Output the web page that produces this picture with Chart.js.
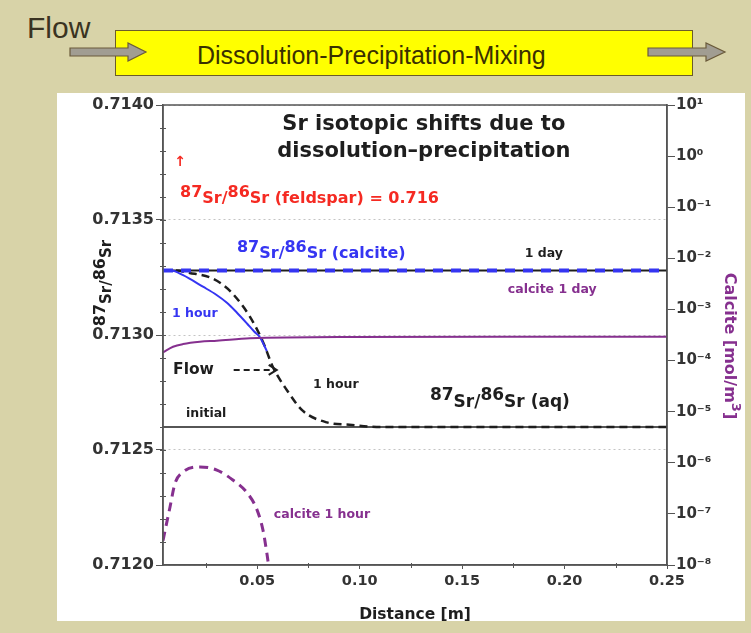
<!DOCTYPE html>
<html>
<head>
<meta charset="utf-8">
<script src="https://cdn.jsdelivr.net/npm/chart.js@4.4.1/dist/chart.umd.min.js"></script>
<style>
  body { margin: 0; background: #d8d3a8; }
  #wrap { position: relative; width: 751px; height: 633px; overflow: hidden; background: #d8d3a8; }
  #panel { position: absolute; left: 57px; top: 93px; width: 688px; height: 528px; background: #fff; }
  #flow { position: absolute; left: 27px; top: 11px; font: 30px "Liberation Sans", Arial, sans-serif; color: #3a3322; }
  #box { position: absolute; left: 115px; top: 30px; width: 576px; height: 44px; background: #ffff00; border: 1.5px solid #6b5c2a; }
  #boxText { position: absolute; left: 197px; top: 41px; font: 25px "Liberation Sans", Arial, sans-serif; color: #3a3000; white-space: nowrap; }
  svg, canvas { position: absolute; left: 0; top: 0; }
</style>
</head>
<body>
<div id="wrap">
  <div id="flow">Flow</div>
  <div id="box"></div>
  <div id="boxText">Dissolution-Precipitation-Mixing</div>
  <svg width="751" height="90">
    <polygon points="70,48 128,48 128,43 146,52 128,61 128,56 70,56" fill="#a19d92" stroke="#6a5a3a" stroke-width="1.2"/>
    <polygon points="648,48 706,48 706,43 725,52 706,61 706,56 648,56" fill="#a19d92" stroke="#6a5a3a" stroke-width="1.2"/>
  </svg>
  <div id="panel"></div>
  <canvas id="chart" width="751" height="633"></canvas>
</div>
<script>
// axes
const xMin = 0.004, xMax = 0.25;
const xTicks = [0.05, 0.10, 0.15, 0.20, 0.25];
const srTicks = [0.7120, 0.7125, 0.7130, 0.7135, 0.7140];
const calTicks = [1e-8, 1e-7, 1e-6, 1e-5, 1e-4, 1e-3, 1e-2, 1e-1, 1e0, 1e1];

// 87Sr/86Sr (aq), 1 hour (black dashed)
const distAq1h = [0.004, 0.010, 0.017, 0.027, 0.033, 0.038, 0.0464, 0.0528, 0.0577, 0.0645, 0.0723, 0.084, 0.095, 0.11, 0.25];
const srAq1h   = [0.71328, 0.71328, 0.71327, 0.71325, 0.71322, 0.71318, 0.71308, 0.71297, 0.71286, 0.71276, 0.71267, 0.71262, 0.71261, 0.7126, 0.7126];
// 87Sr/86Sr (aq), 1 day and initial (black solid)
const distFlat = [0.004, 0.25];
const srAq1d = [0.71328, 0.71328];
const srInitial = [0.7126, 0.7126];
// 87Sr/86Sr (calcite)
const srCal1d = [0.71328, 0.71328];
const distCal1h = [0.004, 0.008, 0.0138, 0.0235, 0.030, 0.0352, 0.040, 0.045, 0.0485, 0.0513, 0.0547];
const srCal1h   = [0.71328, 0.71328, 0.71326, 0.71321, 0.713175, 0.71314, 0.713098, 0.71305, 0.713015, 0.71299, 0.71293];
// calcite amount [mol/m3]
const distCalc1d = [0.004, 0.0089, 0.0138, 0.022, 0.0303, 0.0464, 0.095, 0.17, 0.25];
const calc1d     = [1.45e-4, 1.86e-4, 2.1e-4, 2.33e-4, 2.44e-4, 2.72e-4, 2.9e-4, 2.92e-4, 2.92e-4];
const distCalc1h = [0.004, 0.0074, 0.0099, 0.0138, 0.022, 0.0303, 0.0381, 0.045, 0.0499, 0.0528, 0.0547, 0.0555];
const calc1h     = [3e-8, 1.35e-7, 4e-7, 6.6e-7, 8.3e-7, 7.2e-7, 4.6e-7, 2.6e-7, 1.2e-7, 4.8e-8, 1.7e-8, 1e-8];

const BLUE = '#3535f2', PURPLE = '#86308f', RED = '#f52a22', INK = '#1e1e1e';
const FONT = '"DejaVu Sans", Verdana, sans-serif';

function pts(xs, ys) { return xs.map((x, i) => ({ x: x, y: ys[i] })); }

const sup = { '-': '⁻', '0': '⁰', '1': '¹', '2': '²', '3': '³', '4': '⁴', '5': '⁵', '6': '⁶', '7': '⁷', '8': '⁸', '9': '⁹' };
function pow10(v) {
  const e = String(Math.round(Math.log10(v)));
  return '10' + e.split('').map(c => sup[c]).join('');
}

// text labels in data units (x distance, y left axis)
const notes = [
  { x: 0.1313, y: 0.71389, align: 'center', color: INK, parts: [['Sr isotopic shifts due to', 21]] },
  { x: 0.1313, y: 0.713775, align: 'center', color: INK, parts: [['dissolution\u2013precipitation', 21]] },
  { x: 0.0095, y: 0.713735, color: RED, parts: [['\u2191', 14]] },
  { x: 0.0123, y: 0.713574, color: RED, parts: [['87', 16, -6], ['Sr', 16], ['/', 16], ['86', 16, -6], ['Sr', 16], [' (feldspar) = 0.716', 16]] },
  { x: 0.0401, y: 0.713335, color: BLUE, parts: [['87', 16, -6], ['Sr', 16], ['/', 16], ['86', 16, -6], ['Sr', 16], [' (calcite)', 16]] },
  { x: 0.1806, y: 0.713339, color: INK, parts: [['1 day', 12.5]] },
  { x: 0.1723, y: 0.713183, color: PURPLE, parts: [['calcite 1 day', 12.5]] },
  { x: 0.0084, y: 0.713078, color: BLUE, parts: [['1 hour', 12.5]] },
  { x: 0.0089, y: 0.71283, color: INK, parts: [['Flow', 15.5]] },
  { x: 0.0772, y: 0.71277, color: INK, parts: [['1 hour', 12.5]] },
  { x: 0.1343, y: 0.712687, color: INK, parts: [['87', 17, -7], ['Sr', 17], ['/', 17], ['86', 17, -7], ['Sr', 17], [' (aq)', 17]] },
  { x: 0.0152, y: 0.712643, color: INK, parts: [['initial', 12.5]] },
  { x: 0.0581, y: 0.712204, color: PURPLE, parts: [['calcite 1 hour', 12.5]] }
];

function drawParts(ctx, x, y, parts, color, align) {
  let w = 0;
  parts.forEach(p => { ctx.font = 'bold ' + p[1] + 'px ' + FONT; w += ctx.measureText(p[0]).width; });
  let cx = align === 'center' ? x - w / 2 : x;
  ctx.fillStyle = color;
  ctx.textAlign = 'left';
  ctx.textBaseline = 'alphabetic';
  parts.forEach(p => {
    ctx.font = 'bold ' + p[1] + 'px ' + FONT;
    ctx.fillText(p[0], cx, y + (p[2] || 0));
    cx += ctx.measureText(p[0]).width;
  });
}

const decor = {
  id: 'decor',
  afterDraw(chart) {
    const c = chart.ctx, a = chart.chartArea;
    const sx = chart.scales.x, sy = chart.scales.y;
    c.save();
    // minor ticks
    c.strokeStyle = '#555';
    c.lineWidth = 1;
    for (let v = 0.7121; v < 0.71395; v += 0.0001) {
      const py = Math.round(sy.getPixelForValue(v)) + 0.5;
      c.beginPath(); c.moveTo(a.left - 3, py); c.lineTo(a.left + 3, py); c.stroke();
    }
    [0.025, 0.075, 0.125, 0.175, 0.225].forEach(v => {
      const px = Math.round(sx.getPixelForValue(v)) + 0.5;
      c.beginPath(); c.moveTo(px, a.bottom - 2); c.lineTo(px, a.bottom + 3); c.stroke();
    });
    // frame
    c.strokeStyle = '#555';
    c.lineWidth = 1.5;
    c.strokeRect(a.left, a.top, a.right - a.left, a.bottom - a.top);

    // labels
    notes.forEach(n => drawParts(c, sx.getPixelForValue(n.x), sy.getPixelForValue(n.y), n.parts, n.color, n.align));

    // dashed flow arrow
    const fy = sy.getPixelForValue(0.712848);
    const fx0 = sx.getPixelForValue(0.0385), fx1 = sx.getPixelForValue(0.0595);
    c.strokeStyle = INK;
    c.lineWidth = 2;
    c.setLineDash([6, 4]);
    c.beginPath(); c.moveTo(fx0, fy); c.lineTo(fx1 - 2, fy); c.stroke();
    c.setLineDash([]);
    c.beginPath(); c.moveTo(fx1 - 8, fy - 5); c.lineTo(fx1, fy); c.lineTo(fx1 - 8, fy + 5); c.stroke();

    // axis titles
    c.save();
    c.translate(111, (a.top + a.bottom) / 2 - 52);
    c.rotate(-Math.PI / 2);
    drawParts(c, 0, 0, [['87', 16, -6], ['Sr', 15], ['/', 15], ['86', 16, -6], ['Sr', 15]], INK, 'center');
    c.restore();

    c.save();
    c.translate(725, 346);
    c.rotate(Math.PI / 2);
    drawParts(c, 0, 0, [['Calcite [mol/m', 16], ['3', 13, -7], [']', 16]], PURPLE, 'center');
    c.restore();

    drawParts(c, (a.left + a.right) / 2, 619, [['Distance [m]', 15.5]], INK, 'center');
    c.restore();
  }
};

const tickFont = (s) => ({ family: FONT, size: s, weight: 'bold' });

new Chart(document.getElementById('chart').getContext('2d'), {
  type: 'line',
  data: {
    datasets: [
      { label: 'initial', data: pts(distFlat, srInitial), yAxisID: 'y', borderColor: INK, borderWidth: 1.5, order: 9 },
      { label: 'aq 1 day', data: pts(distFlat, srAq1d), yAxisID: 'y', borderColor: INK, borderWidth: 2, order: 8 },
      { label: 'aq 1 hour', data: pts(distAq1h, srAq1h), yAxisID: 'y', borderColor: INK, borderWidth: 2.5, borderDash: [8, 5], cubicInterpolationMode: 'monotone', order: 5 },
      { label: 'calcite 1 hour', data: pts(distCal1h, srCal1h), yAxisID: 'y', borderColor: BLUE, borderWidth: 2, cubicInterpolationMode: 'monotone', order: 4 },
      { label: 'calcite 1 day', data: pts(distFlat, srCal1d), yAxisID: 'y', borderColor: BLUE, borderWidth: 4, borderDash: [10, 8], order: 3 },
      { label: 'calcite amount 1 day', data: pts(distCalc1d, calc1d), yAxisID: 'y1', borderColor: PURPLE, borderWidth: 2, cubicInterpolationMode: 'monotone', order: 2 },
      { label: 'calcite amount 1 hour', data: pts(distCalc1h, calc1h), yAxisID: 'y1', borderColor: PURPLE, borderWidth: 3, borderDash: [9, 6], cubicInterpolationMode: 'monotone', order: 1 }
    ]
  },
  options: {
    responsive: false,
    animation: false,
    elements: { point: { radius: 0 } },
    layout: { padding: { top: 105, left: 0, right: 0, bottom: 0 } },
    plugins: { legend: { display: false }, tooltip: { enabled: false } },
    scales: {
      x: {
        type: 'linear', min: xMin, max: xMax,
        afterBuildTicks: s => { s.ticks = xTicks.map(v => ({ value: v })); },
        afterFit: s => { s.height = 68; },
        ticks: { callback: v => v.toFixed(2), font: tickFont(14.5), color: '#333', padding: 4, maxRotation: 0 },
        grid: { drawOnChartArea: false, tickLength: 4, color: '#555' },
        border: { color: '#555', width: 1.5 }
      },
      y: {
        position: 'left', min: 0.712, max: 0.714,
        afterBuildTicks: s => { s.ticks = srTicks.map(v => ({ value: v })); },
        afterFit: s => { s.width = 163; },
        ticks: { callback: v => v.toFixed(4), font: tickFont(16), color: '#333', padding: 2 },
        grid: { color: '#c4c4c4', lineWidth: 1, tickLength: 7, tickColor: '#555', tickBorderDash: [] },
        border: { color: '#555', width: 1.5, dash: [2, 3] }
      },
      y1: {
        type: 'logarithmic', position: 'right', min: 1e-8, max: 10,
        afterBuildTicks: s => { s.ticks = calTicks.map(v => ({ value: v })); },
        afterFit: s => { s.width = 84; },
        ticks: { callback: v => pow10(v), font: tickFont(15), color: '#333', padding: 1 },
        grid: { drawOnChartArea: false, tickLength: 8, color: '#555' },
        border: { color: '#555', width: 1.5 }
      }
    }
  },
  plugins: [decor]
});
</script>
</body>
</html>
